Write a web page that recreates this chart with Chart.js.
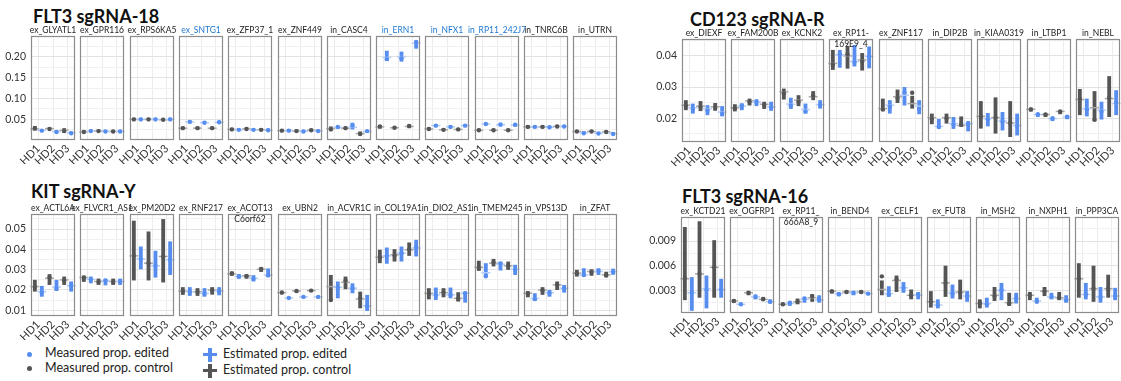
<!DOCTYPE html>
<html>
<head>
<meta charset="utf-8">
<script src="https://cdn.jsdelivr.net/npm/chart.js@4.4.0/dist/chart.umd.min.js"></script>
<style>
  body { margin: 0; background: #fff; width: 1121px; height: 381px; overflow: hidden; position: relative; font-family: Lato, sans-serif; }
  canvas { position: absolute; }
  .ptitle { position: absolute; font-weight: bold; font-size: 18px; color: #111; white-space: nowrap; line-height: 1; }
  .leg { position: absolute; font-size: 12.5px; color: #222; white-space: nowrap; line-height: 1; }
  .mk { position: absolute; }
</style>
</head>
<body>
<div class="ptitle" style="left:33px;top:7px">FLT3 sgRNA-18</div>
<div class="ptitle" style="left:690px;top:10px">CD123 sgRNA-R</div>
<div class="ptitle" style="left:31px;top:182px">KIT sgRNA-Y</div>
<div class="ptitle" style="left:682px;top:187px">FLT3 sgRNA-16</div>

<div class="mk" style="left:26.5px;top:351.5px;width:5px;height:5px;border-radius:50%;background:#568dee"></div>
<div class="mk" style="left:26.5px;top:365.5px;width:5px;height:5px;border-radius:50%;background:#555"></div>
<div class="leg" style="left:45px;top:347px">Measured prop. edited</div>
<div class="leg" style="left:45px;top:362px">Measured prop. control</div>
<div class="mk" style="left:208px;top:348px;width:4px;height:14px;background:#568dee"></div>
<div class="mk" style="left:203px;top:353px;width:14px;height:3px;background:#568dee"></div>
<div class="mk" style="left:208px;top:364px;width:4px;height:14px;background:#555"></div>
<div class="mk" style="left:203px;top:369px;width:14px;height:3px;background:#555"></div>
<div class="leg" style="left:223px;top:348px">Estimated prop. edited</div>
<div class="leg" style="left:223px;top:363.5px">Estimated prop. control</div>

<script>
const donors = ['HD1', 'HD2', 'HD3'];

// FLT3 sgRNA-18
const p1Names = ['ex_GLYATL1', 'ex_GPR116', 'ex_RPS6KA5', 'ex_SNTG1', 'ex_ZFP37_1', 'ex_ZNF449',
  'in_CASC4', 'in_ERN1', 'in_NFX1', 'in_RP11_242J7', 'in_TNRC6B', 'in_UTRN'];
const p1Highlight = ['ex_SNTG1', 'in_ERN1', 'in_NFX1', 'in_RP11_242J7'];
const p1Major = [0.05, 0.10, 0.15, 0.20];
const p1Labels = ['0.05', '0.10', '0.15', '0.20'];
const p1Minor = [0.025, 0.075, 0.125, 0.175, 0.225];
const p1Ctrl = [
  [[0.023, 0.034], [0.026, 0.029], [0.018, 0.029]],
  [[0.019, 0.021], [0.021, 0.023], [0.020, 0.022]],
  [[0.049, 0.051], [0.049, 0.051], [0.048, 0.050]],
  [[0.028, 0.030], [0.028, 0.030], [0.028, 0.030]],
  [[0.025, 0.027], [0.026, 0.028], [0.024, 0.026]],
  [[0.022, 0.024], [0.021, 0.023], [0.023, 0.025]],
  [[0.023, 0.033], [0.028, 0.030], [0.012, 0.021]],
  [[0.028, 0.036], [0.028, 0.032], [0.029, 0.038]],
  [[0.026, 0.028], [0.024, 0.026], [0.025, 0.027]],
  [[0.023, 0.025], [0.023, 0.025], [0.023, 0.025]],
  [[0.031, 0.033], [0.031, 0.033], [0.032, 0.034]],
  [[0.020, 0.022], [0.020, 0.022], [0.019, 0.021]]
];
const p1CtrlEst = [[0.027, 0.028, 0.024], [0.020, 0.022, 0.021], [0.050, 0.050, 0.049], [0.029, 0.029, 0.029],
  [0.026, 0.027, 0.025], [0.023, 0.022, 0.024], [0.028, 0.029, 0.016], [0.032, 0.030, 0.033],
  [0.027, 0.025, 0.026], [0.024, 0.024, 0.024], [0.032, 0.032, 0.033], [0.021, 0.021, 0.020]];
const p1CtrlMeas = [[0.029, 0.027, 0.022], [0.020, 0.022, 0.021], [0.050, 0.050, 0.049], [0.029, 0.029, 0.029],
  [0.026, 0.027, 0.025], [0.023, 0.022, 0.024], [0.026, 0.029, 0.015], [0.033, 0.030, 0.034],
  [0.027, 0.025, 0.026], [0.024, 0.024, 0.024], [0.032, 0.032, 0.033], [0.021, 0.021, 0.020]];
const p1Edit = [
  [[0.021, 0.026], [0.018, 0.024], [0.016, 0.021]],
  [[0.021, 0.023], [0.020, 0.022], [0.020, 0.022]],
  [[0.049, 0.051], [0.049, 0.051], [0.049, 0.051]],
  [[0.043, 0.045], [0.041, 0.043], [0.042, 0.044]],
  [[0.024, 0.026], [0.024, 0.026], [0.023, 0.025]],
  [[0.022, 0.024], [0.020, 0.022], [0.021, 0.023]],
  [[0.028, 0.034], [0.026, 0.042], [0.018, 0.023]],
  [[0.190, 0.214], [0.188, 0.212], [0.219, 0.238]],
  [[0.034, 0.036], [0.031, 0.033], [0.034, 0.036]],
  [[0.037, 0.041], [0.033, 0.041], [0.033, 0.040]],
  [[0.031, 0.033], [0.030, 0.032], [0.032, 0.034]],
  [[0.017, 0.019], [0.016, 0.018], [0.015, 0.017]]
];
const p1EditEst = [[0.024, 0.021, 0.018], [0.022, 0.021, 0.021], [0.050, 0.050, 0.050], [0.044, 0.042, 0.043],
  [0.025, 0.025, 0.024], [0.023, 0.021, 0.022], [0.031, 0.031, 0.021], [0.198, 0.200, 0.232],
  [0.035, 0.032, 0.035], [0.039, 0.037, 0.036], [0.032, 0.031, 0.033], [0.018, 0.017, 0.016]];
const p1EditMeas = [[0.023, 0.020, 0.017], [0.022, 0.021, 0.021], [0.050, 0.050, 0.050], [0.044, 0.042, 0.043],
  [0.025, 0.025, 0.024], [0.023, 0.021, 0.022], [0.032, 0.035, 0.022], [0.194, 0.196, 0.235],
  [0.035, 0.032, 0.035], [0.039, 0.038, 0.037], [0.032, 0.031, 0.033], [0.017, 0.016, 0.015]];

// CD123 sgRNA-R
const p2Names = ['ex_DIEXF', 'ex_FAM200B', 'ex_KCNK2', 'ex_RP11-\n169E9_4', 'ex_ZNF117', 'in_DIP2B',
  'in_KIAA0319', 'in_LTBP1', 'in_NEBL'];
const p2Major = [0.02, 0.03, 0.04];
const p2Labels = ['0.02', '0.03', '0.04'];
const p2Minor = [0.015, 0.025, 0.035, 0.045];
const p2Ctrl = [
  [[0.0226, 0.0258], [0.0223, 0.0255], [0.0224, 0.0249]],
  [[0.0222, 0.0245], [0.0241, 0.0263], [0.0230, 0.0253]],
  [[0.0260, 0.0295], [0.0239, 0.0274], [0.0258, 0.0287]],
  [[0.0355, 0.0419], [0.0359, 0.0432], [0.0353, 0.0409]],
  [[0.0224, 0.0263], [0.0249, 0.0292], [0.0231, 0.0272]],
  [[0.0181, 0.0215], [0.0183, 0.0215], [0.0172, 0.0206]],
  [[0.0167, 0.0255], [0.0151, 0.0267], [0.0140, 0.0255]],
  [[0.0222, 0.0234], [0.0204, 0.0217], [0.0213, 0.0226]],
  [[0.0210, 0.0294], [0.0191, 0.0287], [0.0204, 0.0335]]
];
const p2CtrlEst = [[0.0242, 0.0239, 0.0237], [0.0234, 0.0256, 0.0245], [0.0285, 0.0258, 0.0269],
  [0.0376, 0.0400, 0.0387], [0.0231, 0.0269, 0.0247], [0.0202, 0.0202, 0.0177],
  [0.0206, 0.0202, 0.0185], [0.0229, 0.0212, 0.0222], [0.0260, 0.0234, 0.0263]];
const p2CtrlMeas = [[0.0240, 0.0236, 0.0234], [0.0232, 0.0253, 0.0243], [0.0280, 0.0253, 0.0272],
  [0.0372, 0.0405, 0.0383], [0.0228, 0.0265, 0.0282], [0.0198, 0.0200, 0.0180],
  [0.0206, 0.0202, 0.0185], [0.0228, 0.0212, 0.0222], [0.0262, 0.0195, 0.0265]];
const p2Edit = [
  [[0.0215, 0.0247], [0.0210, 0.0242], [0.0206, 0.0239]],
  [[0.0226, 0.0248], [0.0239, 0.0261], [0.0224, 0.0253]],
  [[0.0230, 0.0266], [0.0215, 0.0247], [0.0231, 0.0258]],
  [[0.0362, 0.0419], [0.0366, 0.0435], [0.0360, 0.0430]],
  [[0.0215, 0.0258], [0.0241, 0.0300], [0.0213, 0.0258]],
  [[0.0167, 0.0198], [0.0166, 0.0204], [0.0158, 0.0191]],
  [[0.0174, 0.0217], [0.0161, 0.0220], [0.0145, 0.0215]],
  [[0.0204, 0.0217], [0.0191, 0.0204], [0.0197, 0.0210]],
  [[0.0206, 0.0263], [0.0196, 0.0253], [0.0210, 0.0290]]
];
const p2EditEst = [[0.0234, 0.0231, 0.0220], [0.0239, 0.0252, 0.0237], [0.0245, 0.0228, 0.0244],
  [0.0403, 0.0382, 0.0398], [0.0242, 0.0274, 0.0239], [0.0174, 0.0183, 0.0183],
  [0.0199, 0.0191, 0.0177], [0.0212, 0.0199, 0.0204], [0.0231, 0.0226, 0.0247]];
const p2EditMeas = [[0.0230, 0.0225, 0.0215], [0.0240, 0.0252, 0.0235], [0.0240, 0.0222, 0.0243],
  [0.0405, 0.0380, 0.0398], [0.0238, 0.0283, 0.0230], [0.0172, 0.0180, 0.0182],
  [0.0197, 0.0190, 0.0175], [0.0213, 0.0200, 0.0205], [0.0228, 0.0222, 0.0250]];

// KIT sgRNA-Y
const p3Names = ['ex_ACTL6A', 'ex_FLVCR1_AS1', 'ex_PM20D2', 'ex_RNF217', 'ex_ACOT13\nC6orf62', 'ex_UBN2',
  'in_ACVR1C', 'in_COL19A1', 'in_DIO2_AS1', 'in_TMEM245', 'in_VPS13D', 'in_ZFAT'];
const p3Major = [0.01, 0.02, 0.03, 0.04, 0.05];
const p3Labels = ['0.01', '0.02', '0.03', '0.04', '0.05'];
const p3Minor = [0.015, 0.025, 0.035, 0.045, 0.055];
const p3Ctrl = [
  [[0.0192, 0.0250], [0.0225, 0.0278], [0.0225, 0.0266]],
  [[0.0240, 0.0270], [0.0225, 0.0256], [0.0225, 0.0256]],
  [[0.0247, 0.0541], [0.0247, 0.0488], [0.0237, 0.0549]],
  [[0.0176, 0.0214], [0.0171, 0.0209], [0.0177, 0.0214]],
  [[0.0270, 0.0291], [0.0256, 0.0278], [0.0289, 0.0312]],
  [[0.0179, 0.0192], [0.0187, 0.0200], [0.0190, 0.0203]],
  [[0.0151, 0.0274], [0.0204, 0.0266], [0.0110, 0.0192]],
  [[0.0332, 0.0398], [0.0340, 0.0401], [0.0368, 0.0434]],
  [[0.0154, 0.0209], [0.0164, 0.0209], [0.0143, 0.0189]],
  [[0.0294, 0.0344], [0.0316, 0.0353], [0.0299, 0.0340]],
  [[0.0164, 0.0195], [0.0176, 0.0214], [0.0200, 0.0242]],
  [[0.0266, 0.0299], [0.0270, 0.0302], [0.0262, 0.0290]]
];
const p3CtrlEst = [[0.0217, 0.0258, 0.0250], [0.0261, 0.0242, 0.0242], [0.0368, 0.0332, 0.0365],
  [0.0195, 0.0191, 0.0200], [0.0279, 0.0270, 0.0302], [0.0187, 0.0195, 0.0197],
  [0.0217, 0.0238, 0.0156], [0.0362, 0.0373, 0.0398], [0.0184, 0.0187, 0.0159],
  [0.0312, 0.0332, 0.0319], [0.0184, 0.0200, 0.0225], [0.0283, 0.0291, 0.0275]];
const p3CtrlMeas = [[0.0215, 0.0262, 0.0247], [0.0262, 0.0240, 0.0240], [0.0368, 0.0332, 0.0365],
  [0.0193, 0.0190, 0.0198], [0.0281, 0.0268, 0.0303], [0.0188, 0.0195, 0.0197],
  [0.0151, 0.0245, 0.0160], [0.0360, 0.0370, 0.0400], [0.0182, 0.0188, 0.0157],
  [0.0310, 0.0335, 0.0318], [0.0182, 0.0198, 0.0226], [0.0283, 0.0289, 0.0272]];
const p3Edit = [
  [[0.0167, 0.0220], [0.0195, 0.0250], [0.0192, 0.0242]],
  [[0.0233, 0.0266], [0.0223, 0.0255], [0.0225, 0.0256]],
  [[0.0302, 0.0414], [0.0261, 0.0393], [0.0274, 0.0439]],
  [[0.0171, 0.0214], [0.0167, 0.0209], [0.0174, 0.0214]],
  [[0.0255, 0.0278], [0.0242, 0.0273], [0.0263, 0.0306]],
  [[0.0156, 0.0166], [0.0161, 0.0171], [0.0161, 0.0171]],
  [[0.0159, 0.0242], [0.0184, 0.0233], [0.0097, 0.0176]],
  [[0.0329, 0.0409], [0.0340, 0.0414], [0.0365, 0.0447]],
  [[0.0151, 0.0212], [0.0159, 0.0212], [0.0138, 0.0192]],
  [[0.0263, 0.0332], [0.0296, 0.0340], [0.0274, 0.0324]],
  [[0.0148, 0.0184], [0.0167, 0.0200], [0.0187, 0.0225]],
  [[0.0266, 0.0307], [0.0274, 0.0307], [0.0275, 0.0305]]
];
const p3EditEst = [[0.0192, 0.0214, 0.0220], [0.0253, 0.0245, 0.0242], [0.0353, 0.0319, 0.0349],
  [0.0192, 0.0184, 0.0195], [0.0266, 0.0258, 0.0274], [0.0161, 0.0166, 0.0166],
  [0.0214, 0.0209, 0.0123], [0.0368, 0.0381, 0.0406], [0.0176, 0.0176, 0.0184],
  [0.0285, 0.0327, 0.0302], [0.0159, 0.0187, 0.0209], [0.0274, 0.0291, 0.0290]];
const p3EditMeas = [[0.0188, 0.0210, 0.0222], [0.0250, 0.0247, 0.0240], [0.0353, 0.0319, 0.0349],
  [0.0190, 0.0182, 0.0193], [0.0268, 0.0255, 0.0272], [0.0161, 0.0166, 0.0166],
  [0.0212, 0.0209, 0.0120], [0.0368, 0.0381, 0.0410], [0.0175, 0.0176, 0.0184],
  [0.0268, 0.0330, 0.0300], [0.0155, 0.0185, 0.0208], [0.0274, 0.0293, 0.0290]];

// FLT3 sgRNA-16
const p4Names = ['ex_KCTD21', 'ex_OGFRP1', 'ex_RP11_\n666A8_9', 'in_BEND4', 'ex_CELF1', 'ex_FUT8',
  'in_MSH2', 'in_NXPH1', 'in_PPP3CA'];
const p4Major = [0.003, 0.006, 0.009];
const p4Labels = ['0.003', '0.006', '0.009'];
const p4Minor = [0.0015, 0.0045, 0.0075, 0.0105];
const p4Ctrl = [
  [[0.0018, 0.0107], [0.0021, 0.0114], [0.0021, 0.0091]],
  [[0.0015, 0.0019], [0.0024, 0.0029], [0.0017, 0.0022]],
  [[0.0011, 0.0015], [0.0013, 0.0020], [0.0016, 0.0025]],
  [[0.0026, 0.0030], [0.0026, 0.0030], [0.0026, 0.0030]],
  [[0.0024, 0.0042], [0.0028, 0.0048], [0.0019, 0.0031]],
  [[0.0009, 0.0029], [0.0022, 0.0060], [0.0019, 0.0043]],
  [[0.0008, 0.0019], [0.0017, 0.0034], [0.0011, 0.0027]],
  [[0.0018, 0.0028], [0.0023, 0.0034], [0.0018, 0.0028]],
  [[0.0021, 0.0063], [0.0016, 0.0060], [0.0021, 0.0049]]
];
const p4CtrlEst = [[0.0044, 0.0050, 0.0058], [0.0017, 0.0027, 0.0019], [0.0013, 0.0016, 0.0021],
  [0.0029, 0.0028, 0.0028], [0.0031, 0.0042, 0.0024], [0.0016, 0.0039, 0.0028],
  [0.0014, 0.0024, 0.0015], [0.0024, 0.0029, 0.0021], [0.0044, 0.0032, 0.0032]];
const p4CtrlMeas = [[0.0044, 0.0050, 0.0058], [0.0017, 0.0027, 0.0019], [0.0013, 0.0016, 0.0023],
  [0.0029, 0.0028, 0.0028], [0.0047, 0.0043, 0.0024], [0.0016, 0.0039, 0.0027],
  [0.0014, 0.0023, 0.0014], [0.0024, 0.0029, 0.0021], [0.0044, 0.0032, 0.0032]];
const p4Edit = [
  [[0.0005, 0.0046], [0.0008, 0.0048], [0.0021, 0.0044]],
  [[0.0011, 0.0015], [0.0019, 0.0025], [0.0014, 0.0019]],
  [[0.0011, 0.0017], [0.0015, 0.0022], [0.0015, 0.0024]],
  [[0.0023, 0.0028], [0.0024, 0.0029], [0.0024, 0.0028]],
  [[0.0022, 0.0035], [0.0027, 0.0040], [0.0019, 0.0028]],
  [[0.0008, 0.0019], [0.0020, 0.0037], [0.0016, 0.0029]],
  [[0.0009, 0.0021], [0.0018, 0.0039], [0.0014, 0.0027]],
  [[0.0015, 0.0021], [0.0019, 0.0027], [0.0015, 0.0024]],
  [[0.0019, 0.0039], [0.0015, 0.0034], [0.0018, 0.0033]]
];
const p4EditEst = [[0.0027, 0.0032, 0.0031], [0.0013, 0.0022, 0.0016], [0.0014, 0.0019, 0.0018],
  [0.0026, 0.0027, 0.0026], [0.0026, 0.0033, 0.0024], [0.0012, 0.0027, 0.0023],
  [0.0014, 0.0030, 0.0020], [0.0017, 0.0022, 0.0019], [0.0025, 0.0022, 0.0023]];
const p4EditMeas = [[0.0027, 0.0031, 0.0031], [0.0013, 0.0022, 0.0016], [0.0015, 0.0020, 0.0019],
  [0.0025, 0.0027, 0.0026], [0.0025, 0.0033, 0.0025], [0.0012, 0.0026, 0.0023],
  [0.0013, 0.0030, 0.0020], [0.0016, 0.0022, 0.0018], [0.0025, 0.0022, 0.0023]];

const grey = '#555555', blue = '#568dee';
const greyLight = '#a9a9a9', blueLight = '#b5cdf7';

Chart.defaults.font.family = 'Lato, sans-serif';
Chart.defaults.color = '#333';

const panels = [
  { x0: 31, top: 36, bottom: 140, yw: 31, min: 0.0007, max: 0.2493, names: p1Names, hl: p1Highlight,
    major: p1Major, labels: p1Labels, minor: p1Minor,
    ctrl: p1Ctrl, ctrlEst: p1CtrlEst, ctrlMeas: p1CtrlMeas, edit: p1Edit, editEst: p1EditEst, editMeas: p1EditMeas },
  { x0: 681.5, top: 39, bottom: 142, yw: 40, min: 0.0124, max: 0.0454, names: p2Names, hl: [],
    major: p2Major, labels: p2Labels, minor: p2Minor,
    ctrl: p2Ctrl, ctrlEst: p2CtrlEst, ctrlMeas: p2CtrlMeas, edit: p2Edit, editEst: p2EditEst, editMeas: p2EditMeas },
  { x0: 31, top: 214, bottom: 316, yw: 31, min: 0.0072, max: 0.0574, names: p3Names, hl: [],
    major: p3Major, labels: p3Labels, minor: p3Minor,
    ctrl: p3Ctrl, ctrlEst: p3CtrlEst, ctrlMeas: p3CtrlMeas, edit: p3Edit, editEst: p3EditEst, editMeas: p3EditMeas },
  { x0: 680.5, top: 217, bottom: 313, yw: 40, min: 0.00024, max: 0.01192, names: p4Names, hl: [],
    major: p4Major, labels: p4Labels, minor: p4Minor,
    ctrl: p4Ctrl, ctrlEst: p4CtrlEst, ctrlMeas: p4CtrlMeas, edit: p4Edit, editEst: p4EditEst, editMeas: p4EditMeas }
];

const isMajor = (p, v) => p.major.findIndex(m => Math.abs(m - v) < 1e-9);

const makeFacet = (p, i) => {
  const first = i === 0;
  const L = first ? p.yw : 18, R = 14, T = 16, B = 24;
  const plotLeft = Math.round(p.x0 + i * 49.3);
  const plotW = 44, plotH = p.bottom - p.top;
  const w = L + plotW + R, h = T + plotH + B;

  const cv = document.createElement('canvas');
  cv.width = w; cv.height = h;
  cv.style.left = (plotLeft - L) + 'px';
  cv.style.top = (p.top - T) + 'px';
  cv.style.width = w + 'px';
  cv.style.height = h + 'px';
  document.body.appendChild(cv);

  const est = [p.ctrlEst[i], p.editEst[i]];
  const meas = [p.ctrlMeas[i], p.editMeas[i]];
  const name = p.names[i];

  const facetPlugin = {
    id: 'facet' + i,
    afterDatasetsDraw(chart) {
      const { ctx, chartArea: a, scales: { y } } = chart;
      ctx.save();
      [0, 1].forEach(d => {
        chart.getDatasetMeta(d).data.forEach((bar, j) => {
          const ye = y.getPixelForValue(est[d][j]);
          ctx.strokeStyle = d ? blueLight : greyLight;
          ctx.lineWidth = 1.5;
          ctx.beginPath();
          ctx.moveTo(bar.x - 4.5, ye);
          ctx.lineTo(bar.x + 4.5, ye);
          ctx.stroke();
          const ym = y.getPixelForValue(meas[d][j]);
          ctx.fillStyle = d ? blue : grey;
          ctx.beginPath();
          ctx.arc(bar.x, ym, 2.2, 0, Math.PI * 2);
          ctx.fill();
        });
      });
      ctx.strokeStyle = '#8c8c8c';
      ctx.lineWidth = 1.2;
      ctx.strokeRect(a.left + 0.5, a.top + 0.5, a.width - 1, a.height - 1);
      ctx.restore();
    },
    afterDraw(chart) {
      const { ctx, chartArea: a } = chart;
      ctx.save();
      ctx.font = '8.5px Lato, sans-serif';
      ctx.textAlign = 'center';
      ctx.fillStyle = p.hl.includes(name) ? '#1e78d2' : '#222';
      name.split('\n').forEach((line, k) => {
        ctx.fillText(line, (a.left + a.right) / 2, a.top - 3.5 + k * 11.5);
      });
      ctx.restore();
    }
  };

  new Chart(cv, {
    type: 'bar',
    data: {
      labels: donors,
      datasets: [
        { label: 'control', data: p.ctrl[i], backgroundColor: grey },
        { label: 'edited', data: p.edit[i], backgroundColor: blue }
      ]
    },
    options: {
      responsive: false,
      animation: false,
      events: [],
      categoryPercentage: 0.95,
      barPercentage: 0.55,
      minBarLength: 2,
      layout: { padding: { left: first ? 0 : L, right: R, top: T, bottom: 0 } },
      plugins: { legend: { display: false }, tooltip: { enabled: false } },
      scales: {
        x: {
          grid: { offset: false, color: '#ececec', drawTicks: false },
          border: { display: false },
          ticks: { minRotation: 45, maxRotation: 45, autoSkip: false, padding: 2, font: { size: 11 }, color: '#333' },
          afterFit: s => { s.height = B; }
        },
        y: {
          min: p.min,
          max: p.max,
          grid: { drawTicks: false, color: c => isMajor(p, c.tick.value) >= 0 ? '#e2e2e2' : '#f1f1f1' },
          border: { display: false },
          afterBuildTicks: s => {
            s.ticks = p.minor.concat(p.major).sort((a, b) => a - b).map(v => ({ value: v }));
          },
          ticks: {
            display: first,
            autoSkip: false,
            padding: 5,
            font: { size: 10.5 },
            color: '#333',
            callback: v => {
              const k = isMajor(p, v);
              return k >= 0 ? p.labels[k] : '';
            }
          },
          afterFit: s => { s.width = first ? L : 0; }
        }
      }
    },
    plugins: [facetPlugin]
  });
};

panels.forEach(p => p.names.forEach((n, i) => makeFacet(p, i)));
</script>
</body>
</html>
